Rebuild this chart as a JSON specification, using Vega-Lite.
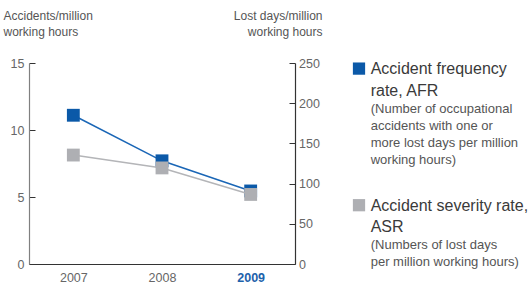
{
  "$schema": "https://vega.github.io/schema/vega-lite/v6.json",
  "padding": {"left": 3, "top": 9, "right": 0, "bottom": 0},
  "bounds": "flush",
  "spacing": 58,
  "config": {
    "font": "Liberation Sans",
    "view": {"stroke": null},
    "axis": {"grid": false, "labelFont": "Liberation Sans", "titleFont": "Liberation Sans"}
  },
  "datasets": {
    "rates": [
      {"year": "2007", "series": "AFR", "value": 11.1},
      {"year": "2008", "series": "AFR", "value": 7.7},
      {"year": "2009", "series": "AFR", "value": 5.45},
      {"year": "2007", "series": "ASR", "value": 135.5},
      {"year": "2008", "series": "ASR", "value": 119.5},
      {"year": "2009", "series": "ASR", "value": 86.5}
    ],
    "legend": [
      {"series": "AFR", "heading": "Accident frequency\nrate, AFR", "note": "(Number of occupational\naccidents with one or\nmore lost days per million\nworking hours)"},
      {"series": "ASR", "heading": "Accident severity rate,\nASR", "note": "(Numbers of lost days\nper million working hours)"}
    ]
  },
  "hconcat": [
    {
      "width": 266,
      "height": 201,
      "data": {"name": "rates"},
      "encoding": {
        "x": {
          "field": "year",
          "type": "ordinal",
          "scale": {"type": "point", "padding": 0.5},
          "axis": {
            "title": null,
            "ticks": false,
            "domainColor": "#333333",
            "domainWidth": 1.2,
            "labelAngle": 0,
            "labelFontSize": 12.5,
            "labelPadding": 7,
            "labelColor": {"condition": {"test": "datum.value == '2009'", "value": "#1d62ab"}, "value": "#666666"},
            "labelFontWeight": {"condition": {"test": "datum.value == '2009'", "value": "bold"}, "value": "normal"}
          }
        }
      },
      "layer": [
        {
          "transform": [{"filter": "datum.series == 'AFR'"}],
          "encoding": {
            "y": {
              "field": "value",
              "type": "quantitative",
              "scale": {"domain": [0, 15], "nice": false},
              "axis": {
                "orient": "left",
                "values": [0, 5, 10, 15],
                "title": ["Accidents/million", "working hours"],
                "titleAngle": 0,
                "titleAlign": "left",
                "titleBaseline": "top",
                "titleX": -26,
                "titleY": -53,
                "titleFontSize": 12,
                "titleFontWeight": "normal",
                "titleColor": "#555555",
                "titleLineHeight": 16.5,
                "domainColor": "#808080",
                "domainWidth": 1.2,
                "tickColor": "#333333",
                "tickSize": -6,
                "labelFontSize": 12.5,
                "labelColor": "#666666",
                "labelPadding": 11
              }
            }
          },
          "layer": [
            {"mark": {"type": "line", "color": "#1a66b6", "strokeWidth": 1.5}},
            {"mark": {"type": "point", "shape": "square", "filled": true, "opacity": 1, "size": 165, "color": "#0b59a8"}}
          ]
        },
        {
          "transform": [{"filter": "datum.series == 'ASR'"}],
          "encoding": {
            "y": {
              "field": "value",
              "type": "quantitative",
              "scale": {"domain": [0, 250], "nice": false},
              "axis": {
                "orient": "right",
                "values": [0, 50, 100, 150, 200, 250],
                "title": ["Lost days/million", "working hours"],
                "titleAngle": 0,
                "titleAlign": "right",
                "titleBaseline": "top",
                "titleX": 27,
                "titleY": -53,
                "titleFontSize": 12,
                "titleFontWeight": "normal",
                "titleColor": "#555555",
                "titleLineHeight": 16.5,
                "domainColor": "#333333",
                "domainWidth": 1.2,
                "tickColor": "#333333",
                "tickSize": -6,
                "labelFontSize": 12.5,
                "labelColor": "#666666",
                "labelPadding": 9.5
              }
            }
          },
          "layer": [
            {"mark": {"type": "line", "color": "#b4b5b8", "strokeWidth": 1.5}},
            {"mark": {"type": "point", "shape": "square", "filled": true, "opacity": 1, "size": 165, "color": "#aeafb3"}}
          ]
        }
      ],
      "resolve": {"scale": {"y": "independent"}}
    },
    {
      "width": 175,
      "height": 201,
      "data": {"name": "legend"},
      "encoding": {
        "y": {
          "field": "series",
          "type": "nominal",
          "scale": {"type": "point", "padding": 0, "domain": ["AFR", "ASR"], "range": [5.6, 142.2]},
          "axis": null
        }
      },
      "layer": [
        {
          "mark": {"type": "point", "shape": "square", "filled": true, "opacity": 1, "size": 150},
          "encoding": {
            "x": {"value": 6},
            "color": {"field": "series", "type": "nominal", "scale": {"domain": ["AFR", "ASR"], "range": ["#0b59a8", "#aeafb3"]}, "legend": null}
          }
        },
        {
          "mark": {"type": "text", "align": "left", "baseline": "alphabetic", "dy": 5.5, "fontSize": 16, "lineHeight": 21.5, "lineBreak": "\n", "color": "#3a3a3a"},
          "encoding": {"x": {"value": 17.7}, "text": {"field": "heading"}}
        },
        {
          "mark": {"type": "text", "align": "left", "baseline": "alphabetic", "dy": 44, "fontSize": 13, "lineHeight": 17, "lineBreak": "\n", "color": "#555555"},
          "encoding": {"x": {"value": 17.7}, "text": {"field": "note"}}
        }
      ]
    }
  ]
}
